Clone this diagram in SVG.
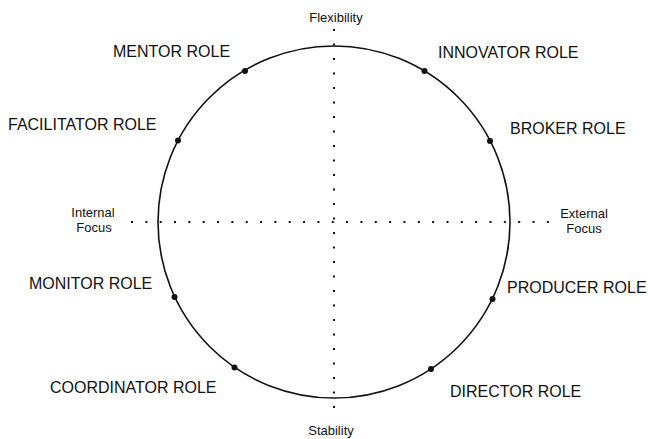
<svg xmlns="http://www.w3.org/2000/svg" width="648" height="439" viewBox="0 0 648 439">
  <style>
    .role { font-family: "Liberation Sans", Arial, sans-serif; font-size: 16px; fill: #111; }
    .axis-label { font-family: "Liberation Sans", Arial, sans-serif; font-size: 13px; fill: #111; text-anchor: middle; }
    .dot { fill: #111; }
    .axis { stroke: #111; stroke-width: 2; fill: none; }
    .ring { stroke: #111; stroke-width: 1.6; fill: none; }
  </style>
  <rect width="648" height="439" fill="#ffffff"/>
  <g id="connectors">
    <circle class="ring" cx="334" cy="222" r="176"/>
    <line class="axis" x1="334" y1="29" x2="334" y2="409" stroke-dasharray="2 12.5"/>
    <line class="axis" x1="131" y1="222" x2="549" y2="222" stroke-dasharray="2 12.34"/>
  </g>
  <g id="axis-flexibility"><text class="axis-label" x="336" y="22">Flexibility</text></g>
  <g id="axis-stability"><text class="axis-label" x="331" y="435">Stability</text></g>
  <g id="axis-internal"><text class="axis-label" x="93" y="217">Internal</text><text class="axis-label" x="94" y="232">Focus</text></g>
  <g id="axis-external"><text class="axis-label" x="584" y="218">External</text><text class="axis-label" x="584" y="233">Focus</text></g>
  <g id="mentor"><circle class="dot" cx="245" cy="71" r="3"/><text class="role" x="113" y="57">MENTOR ROLE</text></g>
  <g id="innovator"><circle class="dot" cx="424.5" cy="71" r="3"/><text class="role" x="438" y="58">INNOVATOR ROLE</text></g>
  <g id="facilitator"><circle class="dot" cx="178" cy="140.5" r="3"/><text class="role" x="8" y="130">FACILITATOR ROLE</text></g>
  <g id="broker"><circle class="dot" cx="490" cy="141" r="3"/><text class="role" x="510" y="134">BROKER ROLE</text></g>
  <g id="monitor"><circle class="dot" cx="174.5" cy="297" r="3"/><text class="role" x="29" y="289">MONITOR ROLE</text></g>
  <g id="producer"><circle class="dot" cx="492.5" cy="299" r="3"/><text class="role" x="507" y="293">PRODUCER ROLE</text></g>
  <g id="coordinator"><circle class="dot" cx="234.5" cy="367.5" r="3"/><text class="role" x="50" y="393">COORDINATOR ROLE</text></g>
  <g id="director"><circle class="dot" cx="431" cy="369" r="3"/><text class="role" x="450" y="397">DIRECTOR ROLE</text></g>
</svg>
